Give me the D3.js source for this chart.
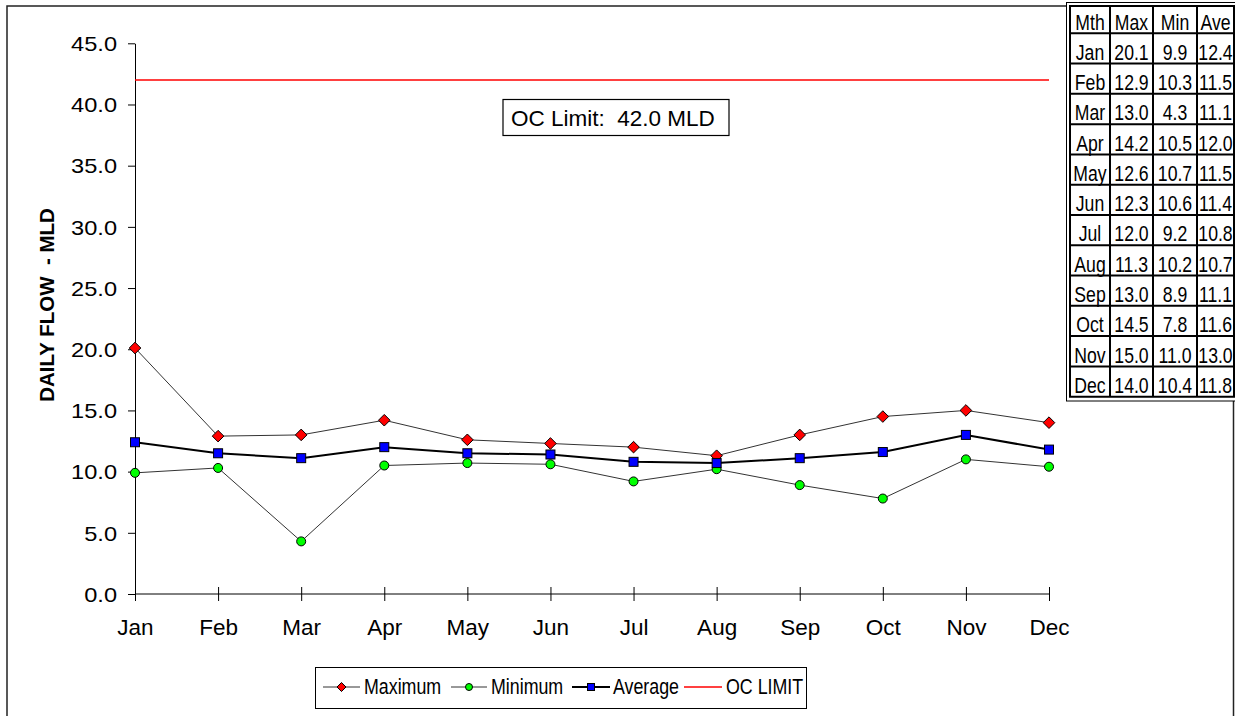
<!DOCTYPE html>
<html><head><meta charset="utf-8">
<script src="https://cdn.jsdelivr.net/npm/d3@7"></script>
<style>
body{margin:0;background:#fff;}
svg{display:block;font-family:"Liberation Sans",Arial,sans-serif;}
</style></head>
<body>
<svg id="chart" width="1235" height="716"></svg>
<script>
const months = ["Jan","Feb","Mar","Apr","May","Jun","Jul","Aug","Sep","Oct","Nov","Dec"];
const maxVals = [20.1,12.9,13.0,14.2,12.6,12.3,12.0,11.3,13.0,14.5,15.0,14.0];
const minVals = [9.9,10.3,4.3,10.5,10.7,10.6,9.2,10.2,8.9,7.8,11.0,10.4];
const aveVals = [12.4,11.5,11.1,12.0,11.5,11.4,10.8,10.7,11.1,11.6,13.0,11.8];
const ocLimit = 42.0;
const yTicks = [0,5,10,15,20,25,30,35,40,45];
const tableHeader = ["Mth","Max","Min","Ave"];
const legendLabels = ["Maximum","Minimum","Average","OC LIMIT"];

const svg = d3.select("#chart");

// helper: text with horizontal scaling
function stext(g, x, y, sx, txt, size, anchor){
  return g.append("text")
    .attr("transform",`translate(${x},${y}) scale(${sx},1)`)
    .attr("font-size",size).attr("text-anchor",anchor||"start")
    .attr("fill","#000").style("white-space","pre").text(txt);
}

// outer chart border
svg.append("path")
  .attr("d","M1066,6 L7,6 L7,720 M1233.5,401 L1233.5,720")
  .attr("fill","none").attr("stroke","#222").attr("stroke-width",1.5);

const x = d3.scalePoint().domain(months).range([135,1049]);
const y = d3.scaleLinear().domain([0,45]).range([594,43.3]);

// y axis
const yAxis = svg.append("g").attr("transform","translate(135,0)")
  .call(d3.axisLeft(y).tickValues(yTicks).tickSize(7).tickSizeOuter(0).tickPadding(11).tickFormat(d3.format(".1f")));
yAxis.selectAll("line,path").attr("stroke","#000");
yAxis.selectAll("text")
  .attr("font-size",20).attr("fill","#000").attr("font-family","Liberation Sans, Arial, sans-serif")
  .attr("x",0).attr("dy","0.36em").attr("transform","translate(-18,0) scale(1.18,1)");

// x axis
const xAxis = svg.append("g").attr("transform","translate(0,594)")
  .call(d3.axisBottom(x).tickSize(7).tickSizeOuter(0).tickPadding(18));
xAxis.select(".domain").attr("d","M135,0H1049").attr("stroke","#000");
xAxis.selectAll(".tick line").attr("y1",-7).attr("stroke","#000");
xAxis.selectAll("text").attr("font-size",22.5).attr("fill","#000").attr("font-family","Liberation Sans, Arial, sans-serif");

// y axis title
svg.append("text").attr("transform","translate(54,305) rotate(-90)")
  .attr("text-anchor","middle").attr("font-size",20.5).attr("font-weight","bold")
  .style("white-space","pre")
  .text("DAILY FLOW  - MLD");

// OC limit line
svg.append("line").attr("x1",x("Jan")).attr("x2",x("Dec"))
  .attr("y1",y(ocLimit)).attr("y2",y(ocLimit)).attr("stroke","#ff0000").attr("stroke-width",1.5);

// OC label box
svg.append("rect").attr("x",503).attr("y",99.5).attr("width",226).attr("height",36)
  .attr("fill","#fff").attr("stroke","#000").attr("stroke-width",1.2);
stext(svg, 511, 125.5, 1, "OC Limit:  " + ocLimit.toFixed(1) + " MLD", 22.5);

const line = d3.line().x((d,i)=>x(months[i])).y(d=>y(d));

svg.append("path").datum(maxVals).attr("d",line).attr("fill","none").attr("stroke","#333").attr("stroke-width",1);
svg.append("path").datum(minVals).attr("d",line).attr("fill","none").attr("stroke","#333").attr("stroke-width",1);
svg.append("path").datum(aveVals).attr("d",line).attr("fill","none").attr("stroke","#000").attr("stroke-width",2);

const diamond = (cx,cy,r)=>`M${cx},${cy-r}L${cx+r},${cy}L${cx},${cy+r}L${cx-r},${cy}Z`;

svg.append("g").selectAll("path").data(maxVals).join("path")
  .attr("d",(d,i)=>diamond(x(months[i]),y(d),5.8))
  .attr("fill","#ff0000").attr("stroke","#000").attr("stroke-width",1);
svg.append("g").selectAll("circle").data(minVals).join("circle")
  .attr("cx",(d,i)=>x(months[i])).attr("cy",d=>y(d)).attr("r",4.5)
  .attr("fill","#00ff00").attr("stroke","#000").attr("stroke-width",1);
svg.append("g").selectAll("rect").data(aveVals).join("rect")
  .attr("x",(d,i)=>x(months[i])-4.5).attr("y",d=>y(d)-4.5).attr("width",9).attr("height",9)
  .attr("fill","#0000ff").attr("stroke","#000").attr("stroke-width",1);

// legend
const lg = svg.append("g");
lg.append("rect").attr("x",315.5).attr("y",667.5).attr("width",491).attr("height",41)
  .attr("fill","#fff").attr("stroke","#000").attr("stroke-width",1);
const legItems = [
  {x1:323,x2:360,tx:364,color:"#333",w:1,mk:"diamond"},
  {x1:451,x2:487,tx:491,color:"#333",w:1,mk:"circle"},
  {x1:572,x2:610,tx:613,color:"#000",w:2,mk:"square"},
  {x1:684,x2:722,tx:726,color:"#ff0000",w:1.5,mk:null}
];
const ly = 687;
legItems.forEach((it,i)=>{
  lg.append("line").attr("x1",it.x1).attr("x2",it.x2).attr("y1",ly).attr("y2",ly)
    .attr("stroke",it.color).attr("stroke-width",it.w);
  const cx=(it.x1+it.x2)/2;
  if(it.mk==="diamond") lg.append("path").attr("d",diamond(cx,ly,4.5)).attr("fill","#ff0000").attr("stroke","#000");
  if(it.mk==="circle") lg.append("circle").attr("cx",cx).attr("cy",ly).attr("r",3.5).attr("fill","#00ff00").attr("stroke","#000");
  if(it.mk==="square") lg.append("rect").attr("x",cx-3.5).attr("y",ly-3.5).attr("width",7).attr("height",7).attr("fill","#0000ff").attr("stroke","#000");
  stext(lg, it.tx, 693.5, 0.81, legendLabels[i], 22);
});

// data table
const tbl = svg.append("g");
const colX = [1070,1110,1153,1197,1234];
const rowLines = [6];
rowLines.push(33.3);
for(let r=1;r<=12;r++) rowLines.push(33.3 + r*30.28);
const rows = [tableHeader].concat(months.map((m,i)=>[m,maxVals[i].toFixed(1),minVals[i].toFixed(1),aveVals[i].toFixed(1)]));
tbl.append("rect").attr("x",1066.5).attr("y",2.5).attr("width",170).attr("height",398.5)
  .attr("fill","#fff").attr("stroke","#000").attr("stroke-width",1);
rowLines.forEach(ry=>{
  tbl.append("line").attr("x1",colX[0]-1).attr("x2",colX[4]+1).attr("y1",ry).attr("y2",ry)
    .attr("stroke","#000").attr("stroke-width",2);
});
colX.forEach(cx=>{
  tbl.append("line").attr("x1",cx).attr("x2",cx).attr("y1",rowLines[0]).attr("y2",rowLines[rowLines.length-1])
    .attr("stroke","#000").attr("stroke-width",2);
});
rows.forEach((row,r)=>{
  row.forEach((v,c)=>{
    stext(tbl, (colX[c]+colX[c+1])/2, rowLines[r+1]-3.8, 0.82, v, 21.5, "middle");
  });
});
</script>
</body></html>
